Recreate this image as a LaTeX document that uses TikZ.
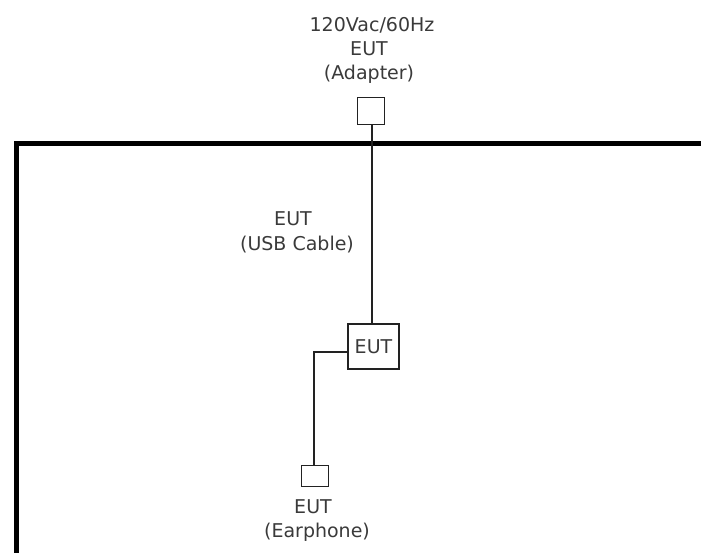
\documentclass[tikz,border=0pt]{standalone}
\usepackage{fontspec}
\setmainfont{DejaVu Sans}
\definecolor{txt}{HTML}{3A3A3A}
\definecolor{ln}{HTML}{222222}
\begin{document}
\begin{tikzpicture}[x=1pt,y=-1pt,
  lbl/.style={anchor=base,inner sep=0pt,text=txt,font=\fontsize{19}{23}\selectfont},
  box/.style={draw=ln,line width=1.8pt,inner sep=0pt,fill=white},
  wire/.style={draw=ln,line width=1.6pt},
  frame/.style={draw=black,line width=5pt}]
\useasboundingbox (0,0) rectangle (701,552);
% frame
\coordinate (fbl) at (16,556);
\coordinate (ftl) at (16,143);
\coordinate (ftr) at (705,143);
\draw[frame] (fbl) -- (ftl) -- (ftr);
% adapter
\node[lbl] (t1) at (372,31) {120Vac/60Hz};
\node[lbl] (t2) at (369,55) {EUT};
\node[lbl] (t3) at (369,79) {(Adapter)};
\node[box,minimum width=27pt,minimum height=27pt] (adp) at (371,111) {};
% EUT
\node[box,minimum width=51pt,minimum height=45pt,font=\fontsize{19}{23}\selectfont,text=txt] (eut) at (373.5,346.5) {EUT};
\draw[wire] (adp.south -| 372,0) -- (eut.north -| 372,0);
% USB cable label
\node[lbl] (u1) at (293,225) {EUT};
\node[lbl] (u2) at (297,250) {(USB Cable)};
% earphone
\node[box,minimum width=27pt,minimum height=21pt] (ear) at (315,476) {};
\coordinate (bend) at (314,352);
\draw[wire] (eut.west |- bend) -- (bend) -- (ear.north -| bend);
\node[lbl] (e1) at (313,513) {EUT};
\node[lbl] (e2) at (317,537) {(Earphone)};
\end{tikzpicture}
\end{document}
